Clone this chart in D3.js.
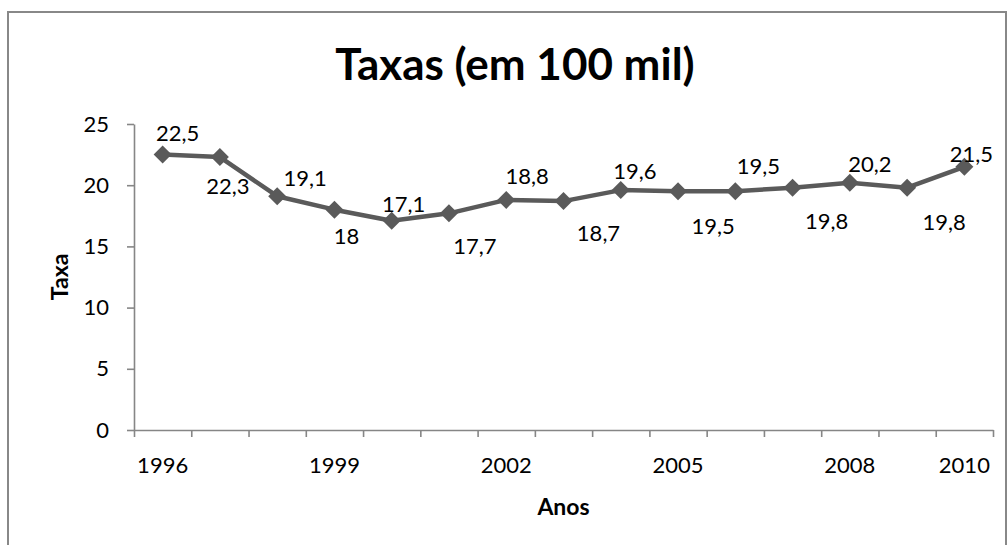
<!DOCTYPE html>
<html>
<head>
<meta charset="utf-8">
<script src="https://cdn.jsdelivr.net/npm/d3@7"></script>
<style>
  body { margin: 0; background: #fff; }
  svg { display: block; font-family: Lato, "Open Sans", sans-serif; }
  .axis path, .axis line { stroke: #868686; stroke-width: 1.6; }
  .axis text { fill: #000; font-size: 22px; font-family: Lato, sans-serif; }
</style>
</head>
<body>
<svg width="1008" height="545"></svg>
<script>
const years = ["1996", "1997", "1998", "1999", "2000", "2001", "2002", "2003",
               "2004", "2005", "2006", "2007", "2008", "2009", "2010"];
const yearLabels = ["1996", "", "", "1999", "", "", "2002", "", "", "2005", "", "", "2008", "", "2010"];
const rates = [22.5, 22.3, 19.1, 18, 17.1, 17.7, 18.8, 18.7, 19.6, 19.5, 19.5, 19.8, 20.2, 19.8, 21.5];
const yTicks = [0, 5, 10, 15, 20, 25];
// where each value label sits relative to its point (moved by hand in the original)
const labelNudge = [[15, -22], [8, 29], [28, -18], [12, 26], [12, -17], [26, 33], [21, -24], [35, 32],
                    [14, -19], [35, 35], [23, -25], [34, 33], [20, -19], [37, 34], [7, -13]];

const plot = { left: 134, right: 993, top: 124, bottom: 430 };

const svg = d3.select("svg");

// chart frame
svg.append("rect")
   .attr("x", 8).attr("y", 12)
   .attr("width", 998).attr("height", 560)
   .attr("fill", "#fff")
   .attr("stroke", "#888")
   .attr("stroke-width", 2);

const x = d3.scaleBand()
            .domain(years)
            .range([plot.left, plot.right])
            .padding(0);

const edge = d3.scaleLinear()
               .domain([0, years.length])
               .range([plot.left, plot.right]);

const y = d3.scaleLinear()
            .domain([0, 25])
            .range([plot.bottom, plot.top]);

// y axis
svg.append("g")
   .attr("class", "axis")
   .attr("transform", `translate(${plot.left}, 0)`)
   .call(d3.axisLeft(y).tickValues(yTicks).tickSize(7).tickSizeOuter(0).tickPadding(18));

// x axis: tick marks on category boundaries
svg.append("g")
   .attr("class", "axis")
   .attr("transform", `translate(0, ${plot.bottom})`)
   .call(d3.axisBottom(edge).tickValues(d3.range(years.length + 1)).tickFormat("").tickSize(7).tickSizeOuter(0));

// x labels centred in categories
const xLabels = svg.append("g")
   .attr("class", "axis")
   .attr("transform", `translate(0, ${plot.bottom})`)
   .call(d3.axisBottom(x).tickSize(0).tickPadding(27).tickFormat((d, i) => yearLabels[i]));
xLabels.select(".domain").remove();

// line
const line = d3.line()
               .x((d, i) => x(years[i]) + x.bandwidth() / 2)
               .y(d => y(d));

svg.append("path")
   .datum(rates)
   .attr("fill", "none")
   .attr("stroke", "#5a5a5a")
   .attr("stroke-width", 4.5)
   .attr("stroke-linejoin", "round")
   .attr("d", line);

// diamond markers
svg.selectAll(".marker")
   .data(rates)
   .enter()
   .append("path")
   .attr("class", "marker")
   .attr("d", "M0,-9L9,0L0,9L-9,0Z")
   .attr("fill", "#5a5a5a")
   .attr("transform", (d, i) => `translate(${x(years[i]) + x.bandwidth() / 2}, ${y(d)})`);

// value labels
svg.selectAll(".value")
   .data(rates)
   .enter()
   .append("text")
   .attr("class", "value")
   .attr("x", (d, i) => x(years[i]) + x.bandwidth() / 2 + labelNudge[i][0])
   .attr("y", (d, i) => y(d) + labelNudge[i][1])
   .attr("dy", "0.36em")
   .attr("text-anchor", "middle")
   .style("font-size", "22px")
   .text(d => String(d).replace(".", ","));

// title
svg.append("text")
   .attr("x", 515)
   .attr("y", 80)
   .attr("text-anchor", "middle")
   .style("font-size", "44px")
   .style("font-weight", "bold")
   .text("Taxas (em 100 mil)");

// axis titles
svg.append("text")
   .attr("x", (plot.left + plot.right) / 2)
   .attr("y", 507)
   .attr("dy", "0.36em")
   .attr("text-anchor", "middle")
   .style("font-size", "23px")
   .style("font-weight", "bold")
   .text("Anos");

svg.append("text")
   .attr("transform", `translate(60, ${(plot.top + plot.bottom) / 2}) rotate(-90)`)
   .attr("dy", "0.36em")
   .attr("text-anchor", "middle")
   .style("font-size", "23px")
   .style("font-weight", "bold")
   .text("Taxa");
</script>
</body>
</html>
